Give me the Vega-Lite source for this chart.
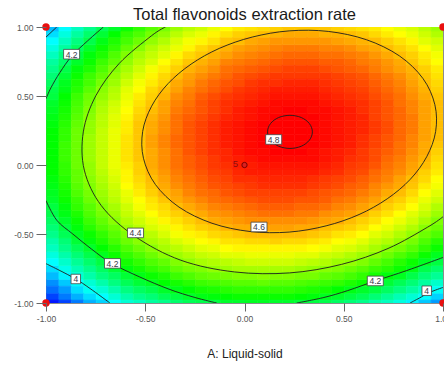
{
"$schema":"https://vega.github.io/schema/vega-lite/v6.json",
"width":397,"height":276,
"autosize":{"type":"none"},
"padding":{"left":46,"top":27,"right":1,"bottom":62},
"background":"white",
"title":{"text":"Total flavonoids extraction rate","fontSize":16.5,"font":"Liberation Sans","fontWeight":"normal","color":"#1a1a1a","anchor":"middle","frame":"group","baseline":"alphabetic","offset":-13},
"config":{
"view":{"stroke":"#8c8c8c","strokeWidth":1},
"axisX":{"tickSize":8,"tickColor":"#666","domain":false,"grid":false,"labelFont":"Liberation Sans","labelFontSize":8.5,"labelColor":"#555","labelPadding":3,"labelFlush":false,"labelOverlap":false,"titleFont":"Liberation Sans","titleFontSize":12,"titleFontWeight":"normal","titleColor":"#222","titlePadding":26},
"axisY":{"tickSize":10,"tickColor":"#666","domain":false,"grid":false,"labelFont":"Liberation Sans","labelFontSize":8.5,"labelColor":"#555","labelPadding":3,"labelFlush":false,"labelOverlap":false}
},
"datasets":{
"grid":[
{"x":-0.97,"y":-0.95,"z":3.86},{"x":-0.91,"y":-0.95,"z":3.91},{"x":-0.84,"y":-0.95,"z":3.96},{"x":-0.78,"y":-0.95,"z":4.00},{"x":-0.72,"y":-0.95,"z":4.03},{"x":-0.66,"y":-0.95,"z":4.07},{"x":-0.59,"y":-0.95,"z":4.11},{"x":-0.53,"y":-0.95,"z":4.14},{"x":-0.47,"y":-0.95,"z":4.16},{"x":-0.41,"y":-0.95,"z":4.19},{"x":-0.34,"y":-0.95,"z":4.21},{"x":-0.28,"y":-0.95,"z":4.23},{"x":-0.22,"y":-0.95,"z":4.25},{"x":-0.16,"y":-0.95,"z":4.26},{"x":-0.09,"y":-0.95,"z":4.27},{"x":-0.03,"y":-0.95,"z":4.28},{"x":0.03,"y":-0.95,"z":4.28},{"x":0.09,"y":-0.95,"z":4.28},{"x":0.16,"y":-0.95,"z":4.28},{"x":0.22,"y":-0.95,"z":4.28},{"x":0.28,"y":-0.95,"z":4.27},{"x":0.34,"y":-0.95,"z":4.26},{"x":0.41,"y":-0.95,"z":4.24},{"x":0.47,"y":-0.95,"z":4.23},{"x":0.53,"y":-0.95,"z":4.21},{"x":0.59,"y":-0.95,"z":4.19},{"x":0.66,"y":-0.95,"z":4.16},{"x":0.72,"y":-0.95,"z":4.13},{"x":0.78,"y":-0.95,"z":4.10},{"x":0.84,"y":-0.95,"z":4.07},{"x":0.91,"y":-0.95,"z":4.03},{"x":0.97,"y":-0.95,"z":3.99},
{"x":-0.97,"y":-0.85,"z":3.93},{"x":-0.91,"y":-0.85,"z":3.98},{"x":-0.84,"y":-0.85,"z":4.03},{"x":-0.78,"y":-0.85,"z":4.07},{"x":-0.72,"y":-0.85,"z":4.11},{"x":-0.66,"y":-0.85,"z":4.15},{"x":-0.59,"y":-0.85,"z":4.19},{"x":-0.53,"y":-0.85,"z":4.22},{"x":-0.47,"y":-0.85,"z":4.24},{"x":-0.41,"y":-0.85,"z":4.27},{"x":-0.34,"y":-0.85,"z":4.29},{"x":-0.28,"y":-0.85,"z":4.31},{"x":-0.22,"y":-0.85,"z":4.33},{"x":-0.16,"y":-0.85,"z":4.34},{"x":-0.09,"y":-0.85,"z":4.35},{"x":-0.03,"y":-0.85,"z":4.36},{"x":0.03,"y":-0.85,"z":4.36},{"x":0.09,"y":-0.85,"z":4.37},{"x":0.16,"y":-0.85,"z":4.36},{"x":0.22,"y":-0.85,"z":4.36},{"x":0.28,"y":-0.85,"z":4.35},{"x":0.34,"y":-0.85,"z":4.34},{"x":0.41,"y":-0.85,"z":4.33},{"x":0.47,"y":-0.85,"z":4.32},{"x":0.53,"y":-0.85,"z":4.30},{"x":0.59,"y":-0.85,"z":4.28},{"x":0.66,"y":-0.85,"z":4.25},{"x":0.72,"y":-0.85,"z":4.22},{"x":0.78,"y":-0.85,"z":4.19},{"x":0.84,"y":-0.85,"z":4.16},{"x":0.91,"y":-0.85,"z":4.12},{"x":0.97,"y":-0.85,"z":4.08},
{"x":-0.97,"y":-0.75,"z":4.00},{"x":-0.91,"y":-0.75,"z":4.05},{"x":-0.84,"y":-0.75,"z":4.10},{"x":-0.78,"y":-0.75,"z":4.14},{"x":-0.72,"y":-0.75,"z":4.18},{"x":-0.66,"y":-0.75,"z":4.22},{"x":-0.59,"y":-0.75,"z":4.26},{"x":-0.53,"y":-0.75,"z":4.29},{"x":-0.47,"y":-0.75,"z":4.32},{"x":-0.41,"y":-0.75,"z":4.34},{"x":-0.34,"y":-0.75,"z":4.37},{"x":-0.28,"y":-0.75,"z":4.39},{"x":-0.22,"y":-0.75,"z":4.40},{"x":-0.16,"y":-0.75,"z":4.42},{"x":-0.09,"y":-0.75,"z":4.43},{"x":-0.03,"y":-0.75,"z":4.44},{"x":0.03,"y":-0.75,"z":4.44},{"x":0.09,"y":-0.75,"z":4.44},{"x":0.16,"y":-0.75,"z":4.44},{"x":0.22,"y":-0.75,"z":4.44},{"x":0.28,"y":-0.75,"z":4.43},{"x":0.34,"y":-0.75,"z":4.42},{"x":0.41,"y":-0.75,"z":4.41},{"x":0.47,"y":-0.75,"z":4.40},{"x":0.53,"y":-0.75,"z":4.38},{"x":0.59,"y":-0.75,"z":4.36},{"x":0.66,"y":-0.75,"z":4.33},{"x":0.72,"y":-0.75,"z":4.31},{"x":0.78,"y":-0.75,"z":4.28},{"x":0.84,"y":-0.75,"z":4.25},{"x":0.91,"y":-0.75,"z":4.20},{"x":0.97,"y":-0.75,"z":4.17},
{"x":-0.97,"y":-0.65,"z":4.06},{"x":-0.91,"y":-0.65,"z":4.11},{"x":-0.84,"y":-0.65,"z":4.16},{"x":-0.78,"y":-0.65,"z":4.20},{"x":-0.72,"y":-0.65,"z":4.24},{"x":-0.66,"y":-0.65,"z":4.28},{"x":-0.59,"y":-0.65,"z":4.32},{"x":-0.53,"y":-0.65,"z":4.35},{"x":-0.47,"y":-0.65,"z":4.38},{"x":-0.41,"y":-0.65,"z":4.41},{"x":-0.34,"y":-0.65,"z":4.43},{"x":-0.28,"y":-0.65,"z":4.45},{"x":-0.22,"y":-0.65,"z":4.47},{"x":-0.16,"y":-0.65,"z":4.48},{"x":-0.09,"y":-0.65,"z":4.50},{"x":-0.03,"y":-0.65,"z":4.50},{"x":0.03,"y":-0.65,"z":4.51},{"x":0.09,"y":-0.65,"z":4.51},{"x":0.16,"y":-0.65,"z":4.51},{"x":0.22,"y":-0.65,"z":4.51},{"x":0.28,"y":-0.65,"z":4.50},{"x":0.34,"y":-0.65,"z":4.50},{"x":0.41,"y":-0.65,"z":4.48},{"x":0.47,"y":-0.65,"z":4.47},{"x":0.53,"y":-0.65,"z":4.45},{"x":0.59,"y":-0.65,"z":4.43},{"x":0.66,"y":-0.65,"z":4.41},{"x":0.72,"y":-0.65,"z":4.38},{"x":0.78,"y":-0.65,"z":4.35},{"x":0.84,"y":-0.65,"z":4.32},{"x":0.91,"y":-0.65,"z":4.28},{"x":0.97,"y":-0.65,"z":4.24},
{"x":-0.97,"y":-0.55,"z":4.11},{"x":-0.91,"y":-0.55,"z":4.16},{"x":-0.84,"y":-0.55,"z":4.22},{"x":-0.78,"y":-0.55,"z":4.26},{"x":-0.72,"y":-0.55,"z":4.30},{"x":-0.66,"y":-0.55,"z":4.34},{"x":-0.59,"y":-0.55,"z":4.38},{"x":-0.53,"y":-0.55,"z":4.41},{"x":-0.47,"y":-0.55,"z":4.44},{"x":-0.41,"y":-0.55,"z":4.46},{"x":-0.34,"y":-0.55,"z":4.49},{"x":-0.28,"y":-0.55,"z":4.51},{"x":-0.22,"y":-0.55,"z":4.53},{"x":-0.16,"y":-0.55,"z":4.54},{"x":-0.09,"y":-0.55,"z":4.56},{"x":-0.03,"y":-0.55,"z":4.56},{"x":0.03,"y":-0.55,"z":4.57},{"x":0.09,"y":-0.55,"z":4.57},{"x":0.16,"y":-0.55,"z":4.58},{"x":0.22,"y":-0.55,"z":4.57},{"x":0.28,"y":-0.55,"z":4.57},{"x":0.34,"y":-0.55,"z":4.56},{"x":0.41,"y":-0.55,"z":4.55},{"x":0.47,"y":-0.55,"z":4.53},{"x":0.53,"y":-0.55,"z":4.52},{"x":0.59,"y":-0.55,"z":4.50},{"x":0.66,"y":-0.55,"z":4.47},{"x":0.72,"y":-0.55,"z":4.45},{"x":0.78,"y":-0.55,"z":4.42},{"x":0.84,"y":-0.55,"z":4.39},{"x":0.91,"y":-0.55,"z":4.35},{"x":0.97,"y":-0.55,"z":4.31},
{"x":-0.97,"y":-0.45,"z":4.16},{"x":-0.91,"y":-0.45,"z":4.21},{"x":-0.84,"y":-0.45,"z":4.26},{"x":-0.78,"y":-0.45,"z":4.31},{"x":-0.72,"y":-0.45,"z":4.35},{"x":-0.66,"y":-0.45,"z":4.38},{"x":-0.59,"y":-0.45,"z":4.43},{"x":-0.53,"y":-0.45,"z":4.46},{"x":-0.47,"y":-0.45,"z":4.49},{"x":-0.41,"y":-0.45,"z":4.51},{"x":-0.34,"y":-0.45,"z":4.54},{"x":-0.28,"y":-0.45,"z":4.56},{"x":-0.22,"y":-0.45,"z":4.58},{"x":-0.16,"y":-0.45,"z":4.59},{"x":-0.09,"y":-0.45,"z":4.61},{"x":-0.03,"y":-0.45,"z":4.62},{"x":0.03,"y":-0.45,"z":4.62},{"x":0.09,"y":-0.45,"z":4.63},{"x":0.16,"y":-0.45,"z":4.63},{"x":0.22,"y":-0.45,"z":4.63},{"x":0.28,"y":-0.45,"z":4.62},{"x":0.34,"y":-0.45,"z":4.62},{"x":0.41,"y":-0.45,"z":4.60},{"x":0.47,"y":-0.45,"z":4.59},{"x":0.53,"y":-0.45,"z":4.58},{"x":0.59,"y":-0.45,"z":4.56},{"x":0.66,"y":-0.45,"z":4.53},{"x":0.72,"y":-0.45,"z":4.51},{"x":0.78,"y":-0.45,"z":4.48},{"x":0.84,"y":-0.45,"z":4.45},{"x":0.91,"y":-0.45,"z":4.41},{"x":0.97,"y":-0.45,"z":4.38},
{"x":-0.97,"y":-0.35,"z":4.20},{"x":-0.91,"y":-0.35,"z":4.25},{"x":-0.84,"y":-0.35,"z":4.30},{"x":-0.78,"y":-0.35,"z":4.35},{"x":-0.72,"y":-0.35,"z":4.39},{"x":-0.66,"y":-0.35,"z":4.43},{"x":-0.59,"y":-0.35,"z":4.47},{"x":-0.53,"y":-0.35,"z":4.50},{"x":-0.47,"y":-0.35,"z":4.53},{"x":-0.41,"y":-0.35,"z":4.56},{"x":-0.34,"y":-0.35,"z":4.58},{"x":-0.28,"y":-0.35,"z":4.60},{"x":-0.22,"y":-0.35,"z":4.62},{"x":-0.16,"y":-0.35,"z":4.64},{"x":-0.09,"y":-0.35,"z":4.65},{"x":-0.03,"y":-0.35,"z":4.66},{"x":0.03,"y":-0.35,"z":4.67},{"x":0.09,"y":-0.35,"z":4.68},{"x":0.16,"y":-0.35,"z":4.68},{"x":0.22,"y":-0.35,"z":4.68},{"x":0.28,"y":-0.35,"z":4.67},{"x":0.34,"y":-0.35,"z":4.67},{"x":0.41,"y":-0.35,"z":4.65},{"x":0.47,"y":-0.35,"z":4.64},{"x":0.53,"y":-0.35,"z":4.63},{"x":0.59,"y":-0.35,"z":4.61},{"x":0.66,"y":-0.35,"z":4.58},{"x":0.72,"y":-0.35,"z":4.56},{"x":0.78,"y":-0.35,"z":4.53},{"x":0.84,"y":-0.35,"z":4.50},{"x":0.91,"y":-0.35,"z":4.47},{"x":0.97,"y":-0.35,"z":4.43},
{"x":-0.97,"y":-0.25,"z":4.23},{"x":-0.91,"y":-0.25,"z":4.28},{"x":-0.84,"y":-0.25,"z":4.33},{"x":-0.78,"y":-0.25,"z":4.38},{"x":-0.72,"y":-0.25,"z":4.42},{"x":-0.66,"y":-0.25,"z":4.46},{"x":-0.59,"y":-0.25,"z":4.50},{"x":-0.53,"y":-0.25,"z":4.53},{"x":-0.47,"y":-0.25,"z":4.56},{"x":-0.41,"y":-0.25,"z":4.59},{"x":-0.34,"y":-0.25,"z":4.62},{"x":-0.28,"y":-0.25,"z":4.64},{"x":-0.22,"y":-0.25,"z":4.66},{"x":-0.16,"y":-0.25,"z":4.68},{"x":-0.09,"y":-0.25,"z":4.69},{"x":-0.03,"y":-0.25,"z":4.70},{"x":0.03,"y":-0.25,"z":4.71},{"x":0.09,"y":-0.25,"z":4.72},{"x":0.16,"y":-0.25,"z":4.72},{"x":0.22,"y":-0.25,"z":4.72},{"x":0.28,"y":-0.25,"z":4.71},{"x":0.34,"y":-0.25,"z":4.71},{"x":0.41,"y":-0.25,"z":4.70},{"x":0.47,"y":-0.25,"z":4.68},{"x":0.53,"y":-0.25,"z":4.67},{"x":0.59,"y":-0.25,"z":4.65},{"x":0.66,"y":-0.25,"z":4.63},{"x":0.72,"y":-0.25,"z":4.60},{"x":0.78,"y":-0.25,"z":4.58},{"x":0.84,"y":-0.25,"z":4.55},{"x":0.91,"y":-0.25,"z":4.51},{"x":0.97,"y":-0.25,"z":4.48},
{"x":-0.97,"y":-0.15,"z":4.25},{"x":-0.91,"y":-0.15,"z":4.30},{"x":-0.84,"y":-0.15,"z":4.36},{"x":-0.78,"y":-0.15,"z":4.40},{"x":-0.72,"y":-0.15,"z":4.44},{"x":-0.66,"y":-0.15,"z":4.48},{"x":-0.59,"y":-0.15,"z":4.53},{"x":-0.53,"y":-0.15,"z":4.56},{"x":-0.47,"y":-0.15,"z":4.59},{"x":-0.41,"y":-0.15,"z":4.62},{"x":-0.34,"y":-0.15,"z":4.65},{"x":-0.28,"y":-0.15,"z":4.67},{"x":-0.22,"y":-0.15,"z":4.69},{"x":-0.16,"y":-0.15,"z":4.71},{"x":-0.09,"y":-0.15,"z":4.72},{"x":-0.03,"y":-0.15,"z":4.73},{"x":0.03,"y":-0.15,"z":4.74},{"x":0.09,"y":-0.15,"z":4.75},{"x":0.16,"y":-0.15,"z":4.75},{"x":0.22,"y":-0.15,"z":4.75},{"x":0.28,"y":-0.15,"z":4.75},{"x":0.34,"y":-0.15,"z":4.74},{"x":0.41,"y":-0.15,"z":4.73},{"x":0.47,"y":-0.15,"z":4.72},{"x":0.53,"y":-0.15,"z":4.70},{"x":0.59,"y":-0.15,"z":4.69},{"x":0.66,"y":-0.15,"z":4.66},{"x":0.72,"y":-0.15,"z":4.64},{"x":0.78,"y":-0.15,"z":4.62},{"x":0.84,"y":-0.15,"z":4.59},{"x":0.91,"y":-0.15,"z":4.55},{"x":0.97,"y":-0.15,"z":4.52},
{"x":-0.97,"y":-0.05,"z":4.27},{"x":-0.91,"y":-0.05,"z":4.32},{"x":-0.84,"y":-0.05,"z":4.37},{"x":-0.78,"y":-0.05,"z":4.42},{"x":-0.72,"y":-0.05,"z":4.46},{"x":-0.66,"y":-0.05,"z":4.50},{"x":-0.59,"y":-0.05,"z":4.54},{"x":-0.53,"y":-0.05,"z":4.58},{"x":-0.47,"y":-0.05,"z":4.61},{"x":-0.41,"y":-0.05,"z":4.64},{"x":-0.34,"y":-0.05,"z":4.67},{"x":-0.28,"y":-0.05,"z":4.69},{"x":-0.22,"y":-0.05,"z":4.71},{"x":-0.16,"y":-0.05,"z":4.73},{"x":-0.09,"y":-0.05,"z":4.74},{"x":-0.03,"y":-0.05,"z":4.76},{"x":0.03,"y":-0.05,"z":4.77},{"x":0.09,"y":-0.05,"z":4.77},{"x":0.16,"y":-0.05,"z":4.77},{"x":0.22,"y":-0.05,"z":4.77},{"x":0.28,"y":-0.05,"z":4.77},{"x":0.34,"y":-0.05,"z":4.77},{"x":0.41,"y":-0.05,"z":4.76},{"x":0.47,"y":-0.05,"z":4.75},{"x":0.53,"y":-0.05,"z":4.73},{"x":0.59,"y":-0.05,"z":4.72},{"x":0.66,"y":-0.05,"z":4.69},{"x":0.72,"y":-0.05,"z":4.67},{"x":0.78,"y":-0.05,"z":4.65},{"x":0.84,"y":-0.05,"z":4.62},{"x":0.91,"y":-0.05,"z":4.58},{"x":0.97,"y":-0.05,"z":4.55},
{"x":-0.97,"y":0.05,"z":4.27},{"x":-0.91,"y":0.05,"z":4.33},{"x":-0.84,"y":0.05,"z":4.38},{"x":-0.78,"y":0.05,"z":4.43},{"x":-0.72,"y":0.05,"z":4.47},{"x":-0.66,"y":0.05,"z":4.51},{"x":-0.59,"y":0.05,"z":4.56},{"x":-0.53,"y":0.05,"z":4.59},{"x":-0.47,"y":0.05,"z":4.62},{"x":-0.41,"y":0.05,"z":4.65},{"x":-0.34,"y":0.05,"z":4.68},{"x":-0.28,"y":0.05,"z":4.70},{"x":-0.22,"y":0.05,"z":4.72},{"x":-0.16,"y":0.05,"z":4.74},{"x":-0.09,"y":0.05,"z":4.76},{"x":-0.03,"y":0.05,"z":4.77},{"x":0.03,"y":0.05,"z":4.78},{"x":0.09,"y":0.05,"z":4.79},{"x":0.16,"y":0.05,"z":4.79},{"x":0.22,"y":0.05,"z":4.79},{"x":0.28,"y":0.05,"z":4.79},{"x":0.34,"y":0.05,"z":4.79},{"x":0.41,"y":0.05,"z":4.78},{"x":0.47,"y":0.05,"z":4.77},{"x":0.53,"y":0.05,"z":4.75},{"x":0.59,"y":0.05,"z":4.74},{"x":0.66,"y":0.05,"z":4.72},{"x":0.72,"y":0.05,"z":4.69},{"x":0.78,"y":0.05,"z":4.67},{"x":0.84,"y":0.05,"z":4.64},{"x":0.91,"y":0.05,"z":4.61},{"x":0.97,"y":0.05,"z":4.57},
{"x":-0.97,"y":0.15,"z":4.27},{"x":-0.91,"y":0.15,"z":4.33},{"x":-0.84,"y":0.15,"z":4.38},{"x":-0.78,"y":0.15,"z":4.43},{"x":-0.72,"y":0.15,"z":4.47},{"x":-0.66,"y":0.15,"z":4.51},{"x":-0.59,"y":0.15,"z":4.56},{"x":-0.53,"y":0.15,"z":4.59},{"x":-0.47,"y":0.15,"z":4.63},{"x":-0.41,"y":0.15,"z":4.66},{"x":-0.34,"y":0.15,"z":4.69},{"x":-0.28,"y":0.15,"z":4.71},{"x":-0.22,"y":0.15,"z":4.73},{"x":-0.16,"y":0.15,"z":4.75},{"x":-0.09,"y":0.15,"z":4.77},{"x":-0.03,"y":0.15,"z":4.78},{"x":0.03,"y":0.15,"z":4.79},{"x":0.09,"y":0.15,"z":4.80},{"x":0.16,"y":0.15,"z":4.80},{"x":0.22,"y":0.15,"z":4.80},{"x":0.28,"y":0.15,"z":4.80},{"x":0.34,"y":0.15,"z":4.80},{"x":0.41,"y":0.15,"z":4.79},{"x":0.47,"y":0.15,"z":4.78},{"x":0.53,"y":0.15,"z":4.77},{"x":0.59,"y":0.15,"z":4.75},{"x":0.66,"y":0.15,"z":4.73},{"x":0.72,"y":0.15,"z":4.71},{"x":0.78,"y":0.15,"z":4.68},{"x":0.84,"y":0.15,"z":4.66},{"x":0.91,"y":0.15,"z":4.62},{"x":0.97,"y":0.15,"z":4.59},
{"x":-0.97,"y":0.25,"z":4.27},{"x":-0.91,"y":0.25,"z":4.32},{"x":-0.84,"y":0.25,"z":4.38},{"x":-0.78,"y":0.25,"z":4.42},{"x":-0.72,"y":0.25,"z":4.47},{"x":-0.66,"y":0.25,"z":4.51},{"x":-0.59,"y":0.25,"z":4.55},{"x":-0.53,"y":0.25,"z":4.59},{"x":-0.47,"y":0.25,"z":4.62},{"x":-0.41,"y":0.25,"z":4.65},{"x":-0.34,"y":0.25,"z":4.68},{"x":-0.28,"y":0.25,"z":4.71},{"x":-0.22,"y":0.25,"z":4.73},{"x":-0.16,"y":0.25,"z":4.75},{"x":-0.09,"y":0.25,"z":4.77},{"x":-0.03,"y":0.25,"z":4.78},{"x":0.03,"y":0.25,"z":4.79},{"x":0.09,"y":0.25,"z":4.80},{"x":0.16,"y":0.25,"z":4.80},{"x":0.22,"y":0.25,"z":4.81},{"x":0.28,"y":0.25,"z":4.80},{"x":0.34,"y":0.25,"z":4.80},{"x":0.41,"y":0.25,"z":4.79},{"x":0.47,"y":0.25,"z":4.78},{"x":0.53,"y":0.25,"z":4.77},{"x":0.59,"y":0.25,"z":4.76},{"x":0.66,"y":0.25,"z":4.74},{"x":0.72,"y":0.25,"z":4.72},{"x":0.78,"y":0.25,"z":4.69},{"x":0.84,"y":0.25,"z":4.67},{"x":0.91,"y":0.25,"z":4.63},{"x":0.97,"y":0.25,"z":4.60},
{"x":-0.97,"y":0.35,"z":4.25},{"x":-0.91,"y":0.35,"z":4.30},{"x":-0.84,"y":0.35,"z":4.36},{"x":-0.78,"y":0.35,"z":4.41},{"x":-0.72,"y":0.35,"z":4.46},{"x":-0.66,"y":0.35,"z":4.50},{"x":-0.59,"y":0.35,"z":4.54},{"x":-0.53,"y":0.35,"z":4.58},{"x":-0.47,"y":0.35,"z":4.61},{"x":-0.41,"y":0.35,"z":4.64},{"x":-0.34,"y":0.35,"z":4.68},{"x":-0.28,"y":0.35,"z":4.70},{"x":-0.22,"y":0.35,"z":4.72},{"x":-0.16,"y":0.35,"z":4.74},{"x":-0.09,"y":0.35,"z":4.76},{"x":-0.03,"y":0.35,"z":4.77},{"x":0.03,"y":0.35,"z":4.78},{"x":0.09,"y":0.35,"z":4.79},{"x":0.16,"y":0.35,"z":4.80},{"x":0.22,"y":0.35,"z":4.80},{"x":0.28,"y":0.35,"z":4.80},{"x":0.34,"y":0.35,"z":4.80},{"x":0.41,"y":0.35,"z":4.79},{"x":0.47,"y":0.35,"z":4.78},{"x":0.53,"y":0.35,"z":4.77},{"x":0.59,"y":0.35,"z":4.76},{"x":0.66,"y":0.35,"z":4.73},{"x":0.72,"y":0.35,"z":4.71},{"x":0.78,"y":0.35,"z":4.69},{"x":0.84,"y":0.35,"z":4.67},{"x":0.91,"y":0.35,"z":4.63},{"x":0.97,"y":0.35,"z":4.60},
{"x":-0.97,"y":0.45,"z":4.23},{"x":-0.91,"y":0.45,"z":4.28},{"x":-0.84,"y":0.45,"z":4.34},{"x":-0.78,"y":0.45,"z":4.39},{"x":-0.72,"y":0.45,"z":4.44},{"x":-0.66,"y":0.45,"z":4.48},{"x":-0.59,"y":0.45,"z":4.52},{"x":-0.53,"y":0.45,"z":4.56},{"x":-0.47,"y":0.45,"z":4.59},{"x":-0.41,"y":0.45,"z":4.63},{"x":-0.34,"y":0.45,"z":4.66},{"x":-0.28,"y":0.45,"z":4.68},{"x":-0.22,"y":0.45,"z":4.71},{"x":-0.16,"y":0.45,"z":4.73},{"x":-0.09,"y":0.45,"z":4.75},{"x":-0.03,"y":0.45,"z":4.76},{"x":0.03,"y":0.45,"z":4.77},{"x":0.09,"y":0.45,"z":4.78},{"x":0.16,"y":0.45,"z":4.79},{"x":0.22,"y":0.45,"z":4.79},{"x":0.28,"y":0.45,"z":4.79},{"x":0.34,"y":0.45,"z":4.79},{"x":0.41,"y":0.45,"z":4.78},{"x":0.47,"y":0.45,"z":4.77},{"x":0.53,"y":0.45,"z":4.76},{"x":0.59,"y":0.45,"z":4.75},{"x":0.66,"y":0.45,"z":4.73},{"x":0.72,"y":0.45,"z":4.71},{"x":0.78,"y":0.45,"z":4.68},{"x":0.84,"y":0.45,"z":4.66},{"x":0.91,"y":0.45,"z":4.63},{"x":0.97,"y":0.45,"z":4.60},
{"x":-0.97,"y":0.55,"z":4.20},{"x":-0.91,"y":0.55,"z":4.25},{"x":-0.84,"y":0.55,"z":4.31},{"x":-0.78,"y":0.55,"z":4.36},{"x":-0.72,"y":0.55,"z":4.41},{"x":-0.66,"y":0.55,"z":4.45},{"x":-0.59,"y":0.55,"z":4.50},{"x":-0.53,"y":0.55,"z":4.53},{"x":-0.47,"y":0.55,"z":4.57},{"x":-0.41,"y":0.55,"z":4.60},{"x":-0.34,"y":0.55,"z":4.63},{"x":-0.28,"y":0.55,"z":4.66},{"x":-0.22,"y":0.55,"z":4.68},{"x":-0.16,"y":0.55,"z":4.70},{"x":-0.09,"y":0.55,"z":4.72},{"x":-0.03,"y":0.55,"z":4.74},{"x":0.03,"y":0.55,"z":4.75},{"x":0.09,"y":0.55,"z":4.76},{"x":0.16,"y":0.55,"z":4.77},{"x":0.22,"y":0.55,"z":4.77},{"x":0.28,"y":0.55,"z":4.77},{"x":0.34,"y":0.55,"z":4.77},{"x":0.41,"y":0.55,"z":4.76},{"x":0.47,"y":0.55,"z":4.75},{"x":0.53,"y":0.55,"z":4.74},{"x":0.59,"y":0.55,"z":4.73},{"x":0.66,"y":0.55,"z":4.71},{"x":0.72,"y":0.55,"z":4.69},{"x":0.78,"y":0.55,"z":4.67},{"x":0.84,"y":0.55,"z":4.64},{"x":0.91,"y":0.55,"z":4.61},{"x":0.97,"y":0.55,"z":4.58},
{"x":-0.97,"y":0.65,"z":4.16},{"x":-0.91,"y":0.65,"z":4.22},{"x":-0.84,"y":0.65,"z":4.28},{"x":-0.78,"y":0.65,"z":4.33},{"x":-0.72,"y":0.65,"z":4.37},{"x":-0.66,"y":0.65,"z":4.42},{"x":-0.59,"y":0.65,"z":4.46},{"x":-0.53,"y":0.65,"z":4.50},{"x":-0.47,"y":0.65,"z":4.54},{"x":-0.41,"y":0.65,"z":4.57},{"x":-0.34,"y":0.65,"z":4.60},{"x":-0.28,"y":0.65,"z":4.63},{"x":-0.22,"y":0.65,"z":4.65},{"x":-0.16,"y":0.65,"z":4.67},{"x":-0.09,"y":0.65,"z":4.69},{"x":-0.03,"y":0.65,"z":4.71},{"x":0.03,"y":0.65,"z":4.72},{"x":0.09,"y":0.65,"z":4.73},{"x":0.16,"y":0.65,"z":4.74},{"x":0.22,"y":0.65,"z":4.74},{"x":0.28,"y":0.65,"z":4.74},{"x":0.34,"y":0.65,"z":4.74},{"x":0.41,"y":0.65,"z":4.74},{"x":0.47,"y":0.65,"z":4.73},{"x":0.53,"y":0.65,"z":4.72},{"x":0.59,"y":0.65,"z":4.71},{"x":0.66,"y":0.65,"z":4.69},{"x":0.72,"y":0.65,"z":4.67},{"x":0.78,"y":0.65,"z":4.65},{"x":0.84,"y":0.65,"z":4.62},{"x":0.91,"y":0.65,"z":4.59},{"x":0.97,"y":0.65,"z":4.56},
{"x":-0.97,"y":0.75,"z":4.12},{"x":-0.91,"y":0.75,"z":4.17},{"x":-0.84,"y":0.75,"z":4.23},{"x":-0.78,"y":0.75,"z":4.28},{"x":-0.72,"y":0.75,"z":4.33},{"x":-0.66,"y":0.75,"z":4.37},{"x":-0.59,"y":0.75,"z":4.42},{"x":-0.53,"y":0.75,"z":4.46},{"x":-0.47,"y":0.75,"z":4.49},{"x":-0.41,"y":0.75,"z":4.53},{"x":-0.34,"y":0.75,"z":4.56},{"x":-0.28,"y":0.75,"z":4.59},{"x":-0.22,"y":0.75,"z":4.61},{"x":-0.16,"y":0.75,"z":4.63},{"x":-0.09,"y":0.75,"z":4.66},{"x":-0.03,"y":0.75,"z":4.67},{"x":0.03,"y":0.75,"z":4.68},{"x":0.09,"y":0.75,"z":4.69},{"x":0.16,"y":0.75,"z":4.70},{"x":0.22,"y":0.75,"z":4.71},{"x":0.28,"y":0.75,"z":4.71},{"x":0.34,"y":0.75,"z":4.71},{"x":0.41,"y":0.75,"z":4.70},{"x":0.47,"y":0.75,"z":4.70},{"x":0.53,"y":0.75,"z":4.69},{"x":0.59,"y":0.75,"z":4.67},{"x":0.66,"y":0.75,"z":4.66},{"x":0.72,"y":0.75,"z":4.64},{"x":0.78,"y":0.75,"z":4.62},{"x":0.84,"y":0.75,"z":4.59},{"x":0.91,"y":0.75,"z":4.56},{"x":0.97,"y":0.75,"z":4.53},
{"x":-0.97,"y":0.85,"z":4.06},{"x":-0.91,"y":0.85,"z":4.12},{"x":-0.84,"y":0.85,"z":4.18},{"x":-0.78,"y":0.85,"z":4.23},{"x":-0.72,"y":0.85,"z":4.28},{"x":-0.66,"y":0.85,"z":4.32},{"x":-0.59,"y":0.85,"z":4.37},{"x":-0.53,"y":0.85,"z":4.41},{"x":-0.47,"y":0.85,"z":4.45},{"x":-0.41,"y":0.85,"z":4.48},{"x":-0.34,"y":0.85,"z":4.51},{"x":-0.28,"y":0.85,"z":4.54},{"x":-0.22,"y":0.85,"z":4.57},{"x":-0.16,"y":0.85,"z":4.59},{"x":-0.09,"y":0.85,"z":4.61},{"x":-0.03,"y":0.85,"z":4.63},{"x":0.03,"y":0.85,"z":4.64},{"x":0.09,"y":0.85,"z":4.65},{"x":0.16,"y":0.85,"z":4.66},{"x":0.22,"y":0.85,"z":4.67},{"x":0.28,"y":0.85,"z":4.67},{"x":0.34,"y":0.85,"z":4.67},{"x":0.41,"y":0.85,"z":4.66},{"x":0.47,"y":0.85,"z":4.66},{"x":0.53,"y":0.85,"z":4.65},{"x":0.59,"y":0.85,"z":4.63},{"x":0.66,"y":0.85,"z":4.62},{"x":0.72,"y":0.85,"z":4.60},{"x":0.78,"y":0.85,"z":4.58},{"x":0.84,"y":0.85,"z":4.56},{"x":0.91,"y":0.85,"z":4.53},{"x":0.97,"y":0.85,"z":4.50},
{"x":-0.97,"y":0.95,"z":4.00},{"x":-0.91,"y":0.95,"z":4.06},{"x":-0.84,"y":0.95,"z":4.12},{"x":-0.78,"y":0.95,"z":4.17},{"x":-0.72,"y":0.95,"z":4.22},{"x":-0.66,"y":0.95,"z":4.27},{"x":-0.59,"y":0.95,"z":4.32},{"x":-0.53,"y":0.95,"z":4.35},{"x":-0.47,"y":0.95,"z":4.39},{"x":-0.41,"y":0.95,"z":4.42},{"x":-0.34,"y":0.95,"z":4.46},{"x":-0.28,"y":0.95,"z":4.49},{"x":-0.22,"y":0.95,"z":4.51},{"x":-0.16,"y":0.95,"z":4.54},{"x":-0.09,"y":0.95,"z":4.56},{"x":-0.03,"y":0.95,"z":4.58},{"x":0.03,"y":0.95,"z":4.59},{"x":0.09,"y":0.95,"z":4.60},{"x":0.16,"y":0.95,"z":4.61},{"x":0.22,"y":0.95,"z":4.62},{"x":0.28,"y":0.95,"z":4.62},{"x":0.34,"y":0.95,"z":4.62},{"x":0.41,"y":0.95,"z":4.61},{"x":0.47,"y":0.95,"z":4.61},{"x":0.53,"y":0.95,"z":4.60},{"x":0.59,"y":0.95,"z":4.59},{"x":0.66,"y":0.95,"z":4.57},{"x":0.72,"y":0.95,"z":4.55},{"x":0.78,"y":0.95,"z":4.53},{"x":0.84,"y":0.95,"z":4.51},{"x":0.91,"y":0.95,"z":4.48},{"x":0.97,"y":0.95,"z":4.45},
{"x":-0.97,"y":-1,"z":3.82},{"x":-0.91,"y":-1,"z":3.86},{"x":-0.84,"y":-1,"z":3.91},{"x":-0.78,"y":-1,"z":3.96},{"x":-0.72,"y":-1,"z":3.99},{"x":-0.66,"y":-1,"z":4.03},{"x":-0.59,"y":-1,"z":4.07},{"x":-0.53,"y":-1,"z":4.09},{"x":-0.47,"y":-1,"z":4.12},{"x":-0.41,"y":-1,"z":4.14},{"x":-0.34,"y":-1,"z":4.17},{"x":-0.28,"y":-1,"z":4.19},{"x":-0.22,"y":-1,"z":4.20},{"x":-0.16,"y":-1,"z":4.21},{"x":-0.09,"y":-1,"z":4.23},{"x":-0.03,"y":-1,"z":4.23},{"x":0.03,"y":-1,"z":4.24},{"x":0.09,"y":-1,"z":4.24},{"x":0.16,"y":-1,"z":4.23},{"x":0.22,"y":-1,"z":4.23},{"x":0.28,"y":-1,"z":4.22},{"x":0.34,"y":-1,"z":4.21},{"x":0.41,"y":-1,"z":4.20},{"x":0.47,"y":-1,"z":4.18},{"x":0.53,"y":-1,"z":4.16},{"x":0.59,"y":-1,"z":4.14},{"x":0.66,"y":-1,"z":4.11},{"x":0.72,"y":-1,"z":4.09},{"x":0.78,"y":-1,"z":4.06},{"x":0.84,"y":-1,"z":4.02},{"x":0.91,"y":-1,"z":3.98},{"x":0.97,"y":-1,"z":3.94},
{"x":-0.97,"y":-0.9,"z":3.90},{"x":-0.91,"y":-0.9,"z":3.94},{"x":-0.84,"y":-0.9,"z":4.00},{"x":-0.78,"y":-0.9,"z":4.04},{"x":-0.72,"y":-0.9,"z":4.07},{"x":-0.66,"y":-0.9,"z":4.11},{"x":-0.59,"y":-0.9,"z":4.15},{"x":-0.53,"y":-0.9,"z":4.18},{"x":-0.47,"y":-0.9,"z":4.20},{"x":-0.41,"y":-0.9,"z":4.23},{"x":-0.34,"y":-0.9,"z":4.25},{"x":-0.28,"y":-0.9,"z":4.27},{"x":-0.22,"y":-0.9,"z":4.29},{"x":-0.16,"y":-0.9,"z":4.30},{"x":-0.09,"y":-0.9,"z":4.31},{"x":-0.03,"y":-0.9,"z":4.32},{"x":0.03,"y":-0.9,"z":4.32},{"x":0.09,"y":-0.9,"z":4.32},{"x":0.16,"y":-0.9,"z":4.32},{"x":0.22,"y":-0.9,"z":4.32},{"x":0.28,"y":-0.9,"z":4.31},{"x":0.34,"y":-0.9,"z":4.30},{"x":0.41,"y":-0.9,"z":4.29},{"x":0.47,"y":-0.9,"z":4.27},{"x":0.53,"y":-0.9,"z":4.25},{"x":0.59,"y":-0.9,"z":4.23},{"x":0.66,"y":-0.9,"z":4.21},{"x":0.72,"y":-0.9,"z":4.18},{"x":0.78,"y":-0.9,"z":4.15},{"x":0.84,"y":-0.9,"z":4.12},{"x":0.91,"y":-0.9,"z":4.08},{"x":0.97,"y":-0.9,"z":4.04},
{"x":-0.97,"y":-0.8,"z":3.97},{"x":-0.91,"y":-0.8,"z":4.02},{"x":-0.84,"y":-0.8,"z":4.07},{"x":-0.78,"y":-0.8,"z":4.11},{"x":-0.72,"y":-0.8,"z":4.15},{"x":-0.66,"y":-0.8,"z":4.18},{"x":-0.59,"y":-0.8,"z":4.22},{"x":-0.53,"y":-0.8,"z":4.25},{"x":-0.47,"y":-0.8,"z":4.28},{"x":-0.41,"y":-0.8,"z":4.30},{"x":-0.34,"y":-0.8,"z":4.33},{"x":-0.28,"y":-0.8,"z":4.35},{"x":-0.22,"y":-0.8,"z":4.37},{"x":-0.16,"y":-0.8,"z":4.38},{"x":-0.09,"y":-0.8,"z":4.39},{"x":-0.03,"y":-0.8,"z":4.40},{"x":0.03,"y":-0.8,"z":4.40},{"x":0.09,"y":-0.8,"z":4.41},{"x":0.16,"y":-0.8,"z":4.40},{"x":0.22,"y":-0.8,"z":4.40},{"x":0.28,"y":-0.8,"z":4.39},{"x":0.34,"y":-0.8,"z":4.39},{"x":0.41,"y":-0.8,"z":4.37},{"x":0.47,"y":-0.8,"z":4.36},{"x":0.53,"y":-0.8,"z":4.34},{"x":0.59,"y":-0.8,"z":4.32},{"x":0.66,"y":-0.8,"z":4.29},{"x":0.72,"y":-0.8,"z":4.26},{"x":0.78,"y":-0.8,"z":4.24},{"x":0.84,"y":-0.8,"z":4.20},{"x":0.91,"y":-0.8,"z":4.16},{"x":0.97,"y":-0.8,"z":4.13},
{"x":-0.97,"y":-0.7,"z":4.03},{"x":-0.91,"y":-0.7,"z":4.08},{"x":-0.84,"y":-0.7,"z":4.13},{"x":-0.78,"y":-0.7,"z":4.17},{"x":-0.72,"y":-0.7,"z":4.21},{"x":-0.66,"y":-0.7,"z":4.25},{"x":-0.59,"y":-0.7,"z":4.29},{"x":-0.53,"y":-0.7,"z":4.32},{"x":-0.47,"y":-0.7,"z":4.35},{"x":-0.41,"y":-0.7,"z":4.37},{"x":-0.34,"y":-0.7,"z":4.40},{"x":-0.28,"y":-0.7,"z":4.42},{"x":-0.22,"y":-0.7,"z":4.44},{"x":-0.16,"y":-0.7,"z":4.45},{"x":-0.09,"y":-0.7,"z":4.46},{"x":-0.03,"y":-0.7,"z":4.47},{"x":0.03,"y":-0.7,"z":4.48},{"x":0.09,"y":-0.7,"z":4.48},{"x":0.16,"y":-0.7,"z":4.48},{"x":0.22,"y":-0.7,"z":4.48},{"x":0.28,"y":-0.7,"z":4.47},{"x":0.34,"y":-0.7,"z":4.46},{"x":0.41,"y":-0.7,"z":4.45},{"x":0.47,"y":-0.7,"z":4.43},{"x":0.53,"y":-0.7,"z":4.42},{"x":0.59,"y":-0.7,"z":4.40},{"x":0.66,"y":-0.7,"z":4.37},{"x":0.72,"y":-0.7,"z":4.34},{"x":0.78,"y":-0.7,"z":4.31},{"x":0.84,"y":-0.7,"z":4.28},{"x":0.91,"y":-0.7,"z":4.24},{"x":0.97,"y":-0.7,"z":4.21},
{"x":-0.97,"y":-0.6,"z":4.09},{"x":-0.91,"y":-0.6,"z":4.14},{"x":-0.84,"y":-0.6,"z":4.19},{"x":-0.78,"y":-0.6,"z":4.23},{"x":-0.72,"y":-0.6,"z":4.27},{"x":-0.66,"y":-0.6,"z":4.31},{"x":-0.59,"y":-0.6,"z":4.35},{"x":-0.53,"y":-0.6,"z":4.38},{"x":-0.47,"y":-0.6,"z":4.41},{"x":-0.41,"y":-0.6,"z":4.44},{"x":-0.34,"y":-0.6,"z":4.46},{"x":-0.28,"y":-0.6,"z":4.48},{"x":-0.22,"y":-0.6,"z":4.50},{"x":-0.16,"y":-0.6,"z":4.51},{"x":-0.09,"y":-0.6,"z":4.53},{"x":-0.03,"y":-0.6,"z":4.54},{"x":0.03,"y":-0.6,"z":4.54},{"x":0.09,"y":-0.6,"z":4.54},{"x":0.16,"y":-0.6,"z":4.54},{"x":0.22,"y":-0.6,"z":4.54},{"x":0.28,"y":-0.6,"z":4.54},{"x":0.34,"y":-0.6,"z":4.53},{"x":0.41,"y":-0.6,"z":4.52},{"x":0.47,"y":-0.6,"z":4.50},{"x":0.53,"y":-0.6,"z":4.49},{"x":0.59,"y":-0.6,"z":4.47},{"x":0.66,"y":-0.6,"z":4.44},{"x":0.72,"y":-0.6,"z":4.41},{"x":0.78,"y":-0.6,"z":4.39},{"x":0.84,"y":-0.6,"z":4.36},{"x":0.91,"y":-0.6,"z":4.32},{"x":0.97,"y":-0.6,"z":4.28},
{"x":-0.97,"y":-0.5,"z":4.14},{"x":-0.91,"y":-0.5,"z":4.19},{"x":-0.84,"y":-0.5,"z":4.24},{"x":-0.78,"y":-0.5,"z":4.28},{"x":-0.72,"y":-0.5,"z":4.32},{"x":-0.66,"y":-0.5,"z":4.36},{"x":-0.59,"y":-0.5,"z":4.40},{"x":-0.53,"y":-0.5,"z":4.43},{"x":-0.47,"y":-0.5,"z":4.46},{"x":-0.41,"y":-0.5,"z":4.49},{"x":-0.34,"y":-0.5,"z":4.52},{"x":-0.28,"y":-0.5,"z":4.54},{"x":-0.22,"y":-0.5,"z":4.55},{"x":-0.16,"y":-0.5,"z":4.57},{"x":-0.09,"y":-0.5,"z":4.58},{"x":-0.03,"y":-0.5,"z":4.59},{"x":0.03,"y":-0.5,"z":4.60},{"x":0.09,"y":-0.5,"z":4.60},{"x":0.16,"y":-0.5,"z":4.60},{"x":0.22,"y":-0.5,"z":4.60},{"x":0.28,"y":-0.5,"z":4.60},{"x":0.34,"y":-0.5,"z":4.59},{"x":0.41,"y":-0.5,"z":4.58},{"x":0.47,"y":-0.5,"z":4.56},{"x":0.53,"y":-0.5,"z":4.55},{"x":0.59,"y":-0.5,"z":4.53},{"x":0.66,"y":-0.5,"z":4.50},{"x":0.72,"y":-0.5,"z":4.48},{"x":0.78,"y":-0.5,"z":4.45},{"x":0.84,"y":-0.5,"z":4.42},{"x":0.91,"y":-0.5,"z":4.38},{"x":0.97,"y":-0.5,"z":4.35},
{"x":-0.97,"y":-0.4,"z":4.18},{"x":-0.91,"y":-0.4,"z":4.23},{"x":-0.84,"y":-0.4,"z":4.28},{"x":-0.78,"y":-0.4,"z":4.33},{"x":-0.72,"y":-0.4,"z":4.37},{"x":-0.66,"y":-0.4,"z":4.41},{"x":-0.59,"y":-0.4,"z":4.45},{"x":-0.53,"y":-0.4,"z":4.48},{"x":-0.47,"y":-0.4,"z":4.51},{"x":-0.41,"y":-0.4,"z":4.54},{"x":-0.34,"y":-0.4,"z":4.56},{"x":-0.28,"y":-0.4,"z":4.58},{"x":-0.22,"y":-0.4,"z":4.60},{"x":-0.16,"y":-0.4,"z":4.62},{"x":-0.09,"y":-0.4,"z":4.63},{"x":-0.03,"y":-0.4,"z":4.64},{"x":0.03,"y":-0.4,"z":4.65},{"x":0.09,"y":-0.4,"z":4.65},{"x":0.16,"y":-0.4,"z":4.65},{"x":0.22,"y":-0.4,"z":4.65},{"x":0.28,"y":-0.4,"z":4.65},{"x":0.34,"y":-0.4,"z":4.64},{"x":0.41,"y":-0.4,"z":4.63},{"x":0.47,"y":-0.4,"z":4.62},{"x":0.53,"y":-0.4,"z":4.60},{"x":0.59,"y":-0.4,"z":4.58},{"x":0.66,"y":-0.4,"z":4.56},{"x":0.72,"y":-0.4,"z":4.53},{"x":0.78,"y":-0.4,"z":4.51},{"x":0.84,"y":-0.4,"z":4.48},{"x":0.91,"y":-0.4,"z":4.44},{"x":0.97,"y":-0.4,"z":4.40},
{"x":-0.97,"y":-0.3,"z":4.21},{"x":-0.91,"y":-0.3,"z":4.26},{"x":-0.84,"y":-0.3,"z":4.32},{"x":-0.78,"y":-0.3,"z":4.36},{"x":-0.72,"y":-0.3,"z":4.40},{"x":-0.66,"y":-0.3,"z":4.44},{"x":-0.59,"y":-0.3,"z":4.48},{"x":-0.53,"y":-0.3,"z":4.52},{"x":-0.47,"y":-0.3,"z":4.55},{"x":-0.41,"y":-0.3,"z":4.57},{"x":-0.34,"y":-0.3,"z":4.60},{"x":-0.28,"y":-0.3,"z":4.62},{"x":-0.22,"y":-0.3,"z":4.64},{"x":-0.16,"y":-0.3,"z":4.66},{"x":-0.09,"y":-0.3,"z":4.67},{"x":-0.03,"y":-0.3,"z":4.68},{"x":0.03,"y":-0.3,"z":4.69},{"x":0.09,"y":-0.3,"z":4.70},{"x":0.16,"y":-0.3,"z":4.70},{"x":0.22,"y":-0.3,"z":4.70},{"x":0.28,"y":-0.3,"z":4.69},{"x":0.34,"y":-0.3,"z":4.69},{"x":0.41,"y":-0.3,"z":4.68},{"x":0.47,"y":-0.3,"z":4.66},{"x":0.53,"y":-0.3,"z":4.65},{"x":0.59,"y":-0.3,"z":4.63},{"x":0.66,"y":-0.3,"z":4.61},{"x":0.72,"y":-0.3,"z":4.58},{"x":0.78,"y":-0.3,"z":4.56},{"x":0.84,"y":-0.3,"z":4.53},{"x":0.91,"y":-0.3,"z":4.49},{"x":0.97,"y":-0.3,"z":4.45},
{"x":-0.97,"y":-0.2,"z":4.24},{"x":-0.91,"y":-0.2,"z":4.29},{"x":-0.84,"y":-0.2,"z":4.35},{"x":-0.78,"y":-0.2,"z":4.39},{"x":-0.72,"y":-0.2,"z":4.43},{"x":-0.66,"y":-0.2,"z":4.47},{"x":-0.59,"y":-0.2,"z":4.51},{"x":-0.53,"y":-0.2,"z":4.55},{"x":-0.47,"y":-0.2,"z":4.58},{"x":-0.41,"y":-0.2,"z":4.61},{"x":-0.34,"y":-0.2,"z":4.63},{"x":-0.28,"y":-0.2,"z":4.66},{"x":-0.22,"y":-0.2,"z":4.68},{"x":-0.16,"y":-0.2,"z":4.69},{"x":-0.09,"y":-0.2,"z":4.71},{"x":-0.03,"y":-0.2,"z":4.72},{"x":0.03,"y":-0.2,"z":4.73},{"x":0.09,"y":-0.2,"z":4.73},{"x":0.16,"y":-0.2,"z":4.73},{"x":0.22,"y":-0.2,"z":4.73},{"x":0.28,"y":-0.2,"z":4.73},{"x":0.34,"y":-0.2,"z":4.72},{"x":0.41,"y":-0.2,"z":4.71},{"x":0.47,"y":-0.2,"z":4.70},{"x":0.53,"y":-0.2,"z":4.69},{"x":0.59,"y":-0.2,"z":4.67},{"x":0.66,"y":-0.2,"z":4.65},{"x":0.72,"y":-0.2,"z":4.62},{"x":0.78,"y":-0.2,"z":4.60},{"x":0.84,"y":-0.2,"z":4.57},{"x":0.91,"y":-0.2,"z":4.53},{"x":0.97,"y":-0.2,"z":4.50},
{"x":-0.97,"y":-0.1,"z":4.26},{"x":-0.91,"y":-0.1,"z":4.31},{"x":-0.84,"y":-0.1,"z":4.37},{"x":-0.78,"y":-0.1,"z":4.41},{"x":-0.72,"y":-0.1,"z":4.45},{"x":-0.66,"y":-0.1,"z":4.49},{"x":-0.59,"y":-0.1,"z":4.54},{"x":-0.53,"y":-0.1,"z":4.57},{"x":-0.47,"y":-0.1,"z":4.60},{"x":-0.41,"y":-0.1,"z":4.63},{"x":-0.34,"y":-0.1,"z":4.66},{"x":-0.28,"y":-0.1,"z":4.68},{"x":-0.22,"y":-0.1,"z":4.70},{"x":-0.16,"y":-0.1,"z":4.72},{"x":-0.09,"y":-0.1,"z":4.73},{"x":-0.03,"y":-0.1,"z":4.75},{"x":0.03,"y":-0.1,"z":4.75},{"x":0.09,"y":-0.1,"z":4.76},{"x":0.16,"y":-0.1,"z":4.76},{"x":0.22,"y":-0.1,"z":4.76},{"x":0.28,"y":-0.1,"z":4.76},{"x":0.34,"y":-0.1,"z":4.75},{"x":0.41,"y":-0.1,"z":4.74},{"x":0.47,"y":-0.1,"z":4.73},{"x":0.53,"y":-0.1,"z":4.72},{"x":0.59,"y":-0.1,"z":4.70},{"x":0.66,"y":-0.1,"z":4.68},{"x":0.72,"y":-0.1,"z":4.66},{"x":0.78,"y":-0.1,"z":4.63},{"x":0.84,"y":-0.1,"z":4.60},{"x":0.91,"y":-0.1,"z":4.57},{"x":0.97,"y":-0.1,"z":4.53},
{"x":-0.97,"y":0,"z":4.27},{"x":-0.91,"y":0,"z":4.32},{"x":-0.84,"y":0,"z":4.38},{"x":-0.78,"y":0,"z":4.42},{"x":-0.72,"y":0,"z":4.47},{"x":-0.66,"y":0,"z":4.51},{"x":-0.59,"y":0,"z":4.55},{"x":-0.53,"y":0,"z":4.58},{"x":-0.47,"y":0,"z":4.62},{"x":-0.41,"y":0,"z":4.65},{"x":-0.34,"y":0,"z":4.68},{"x":-0.28,"y":0,"z":4.70},{"x":-0.22,"y":0,"z":4.72},{"x":-0.16,"y":0,"z":4.74},{"x":-0.09,"y":0,"z":4.75},{"x":-0.03,"y":0,"z":4.77},{"x":0.03,"y":0,"z":4.77},{"x":0.09,"y":0,"z":4.78},{"x":0.16,"y":0,"z":4.78},{"x":0.22,"y":0,"z":4.78},{"x":0.28,"y":0,"z":4.78},{"x":0.34,"y":0,"z":4.78},{"x":0.41,"y":0,"z":4.77},{"x":0.47,"y":0,"z":4.76},{"x":0.53,"y":0,"z":4.74},{"x":0.59,"y":0,"z":4.73},{"x":0.66,"y":0,"z":4.71},{"x":0.72,"y":0,"z":4.68},{"x":0.78,"y":0,"z":4.66},{"x":0.84,"y":0,"z":4.63},{"x":0.91,"y":0,"z":4.60},{"x":0.97,"y":0,"z":4.56},
{"x":-0.97,"y":0.1,"z":4.27},{"x":-0.91,"y":0.1,"z":4.33},{"x":-0.84,"y":0.1,"z":4.38},{"x":-0.78,"y":0.1,"z":4.43},{"x":-0.72,"y":0.1,"z":4.47},{"x":-0.66,"y":0.1,"z":4.51},{"x":-0.59,"y":0.1,"z":4.56},{"x":-0.53,"y":0.1,"z":4.59},{"x":-0.47,"y":0.1,"z":4.62},{"x":-0.41,"y":0.1,"z":4.65},{"x":-0.34,"y":0.1,"z":4.68},{"x":-0.28,"y":0.1,"z":4.71},{"x":-0.22,"y":0.1,"z":4.73},{"x":-0.16,"y":0.1,"z":4.75},{"x":-0.09,"y":0.1,"z":4.76},{"x":-0.03,"y":0.1,"z":4.78},{"x":0.03,"y":0.1,"z":4.79},{"x":0.09,"y":0.1,"z":4.79},{"x":0.16,"y":0.1,"z":4.80},{"x":0.22,"y":0.1,"z":4.80},{"x":0.28,"y":0.1,"z":4.80},{"x":0.34,"y":0.1,"z":4.79},{"x":0.41,"y":0.1,"z":4.78},{"x":0.47,"y":0.1,"z":4.77},{"x":0.53,"y":0.1,"z":4.76},{"x":0.59,"y":0.1,"z":4.74},{"x":0.66,"y":0.1,"z":4.72},{"x":0.72,"y":0.1,"z":4.70},{"x":0.78,"y":0.1,"z":4.68},{"x":0.84,"y":0.1,"z":4.65},{"x":0.91,"y":0.1,"z":4.62},{"x":0.97,"y":0.1,"z":4.58},
{"x":-0.97,"y":0.2,"z":4.27},{"x":-0.91,"y":0.2,"z":4.32},{"x":-0.84,"y":0.2,"z":4.38},{"x":-0.78,"y":0.2,"z":4.43},{"x":-0.72,"y":0.2,"z":4.47},{"x":-0.66,"y":0.2,"z":4.51},{"x":-0.59,"y":0.2,"z":4.56},{"x":-0.53,"y":0.2,"z":4.59},{"x":-0.47,"y":0.2,"z":4.63},{"x":-0.41,"y":0.2,"z":4.66},{"x":-0.34,"y":0.2,"z":4.69},{"x":-0.28,"y":0.2,"z":4.71},{"x":-0.22,"y":0.2,"z":4.73},{"x":-0.16,"y":0.2,"z":4.75},{"x":-0.09,"y":0.2,"z":4.77},{"x":-0.03,"y":0.2,"z":4.78},{"x":0.03,"y":0.2,"z":4.79},{"x":0.09,"y":0.2,"z":4.80},{"x":0.16,"y":0.2,"z":4.80},{"x":0.22,"y":0.2,"z":4.81},{"x":0.28,"y":0.2,"z":4.80},{"x":0.34,"y":0.2,"z":4.80},{"x":0.41,"y":0.2,"z":4.79},{"x":0.47,"y":0.2,"z":4.78},{"x":0.53,"y":0.2,"z":4.77},{"x":0.59,"y":0.2,"z":4.75},{"x":0.66,"y":0.2,"z":4.73},{"x":0.72,"y":0.2,"z":4.71},{"x":0.78,"y":0.2,"z":4.69},{"x":0.84,"y":0.2,"z":4.66},{"x":0.91,"y":0.2,"z":4.63},{"x":0.97,"y":0.2,"z":4.60},
{"x":-0.97,"y":0.3,"z":4.26},{"x":-0.91,"y":0.3,"z":4.31},{"x":-0.84,"y":0.3,"z":4.37},{"x":-0.78,"y":0.3,"z":4.42},{"x":-0.72,"y":0.3,"z":4.46},{"x":-0.66,"y":0.3,"z":4.50},{"x":-0.59,"y":0.3,"z":4.55},{"x":-0.53,"y":0.3,"z":4.59},{"x":-0.47,"y":0.3,"z":4.62},{"x":-0.41,"y":0.3,"z":4.65},{"x":-0.34,"y":0.3,"z":4.68},{"x":-0.28,"y":0.3,"z":4.71},{"x":-0.22,"y":0.3,"z":4.73},{"x":-0.16,"y":0.3,"z":4.75},{"x":-0.09,"y":0.3,"z":4.77},{"x":-0.03,"y":0.3,"z":4.78},{"x":0.03,"y":0.3,"z":4.79},{"x":0.09,"y":0.3,"z":4.80},{"x":0.16,"y":0.3,"z":4.80},{"x":0.22,"y":0.3,"z":4.80},{"x":0.28,"y":0.3,"z":4.80},{"x":0.34,"y":0.3,"z":4.80},{"x":0.41,"y":0.3,"z":4.79},{"x":0.47,"y":0.3,"z":4.78},{"x":0.53,"y":0.3,"z":4.77},{"x":0.59,"y":0.3,"z":4.76},{"x":0.66,"y":0.3,"z":4.74},{"x":0.72,"y":0.3,"z":4.72},{"x":0.78,"y":0.3,"z":4.69},{"x":0.84,"y":0.3,"z":4.67},{"x":0.91,"y":0.3,"z":4.63},{"x":0.97,"y":0.3,"z":4.60},
{"x":-0.97,"y":0.4,"z":4.24},{"x":-0.91,"y":0.4,"z":4.29},{"x":-0.84,"y":0.4,"z":4.35},{"x":-0.78,"y":0.4,"z":4.40},{"x":-0.72,"y":0.4,"z":4.45},{"x":-0.66,"y":0.4,"z":4.49},{"x":-0.59,"y":0.4,"z":4.53},{"x":-0.53,"y":0.4,"z":4.57},{"x":-0.47,"y":0.4,"z":4.60},{"x":-0.41,"y":0.4,"z":4.63},{"x":-0.34,"y":0.4,"z":4.67},{"x":-0.28,"y":0.4,"z":4.69},{"x":-0.22,"y":0.4,"z":4.71},{"x":-0.16,"y":0.4,"z":4.73},{"x":-0.09,"y":0.4,"z":4.75},{"x":-0.03,"y":0.4,"z":4.77},{"x":0.03,"y":0.4,"z":4.78},{"x":0.09,"y":0.4,"z":4.79},{"x":0.16,"y":0.4,"z":4.79},{"x":0.22,"y":0.4,"z":4.80},{"x":0.28,"y":0.4,"z":4.80},{"x":0.34,"y":0.4,"z":4.79},{"x":0.41,"y":0.4,"z":4.79},{"x":0.47,"y":0.4,"z":4.78},{"x":0.53,"y":0.4,"z":4.77},{"x":0.59,"y":0.4,"z":4.75},{"x":0.66,"y":0.4,"z":4.73},{"x":0.72,"y":0.4,"z":4.71},{"x":0.78,"y":0.4,"z":4.69},{"x":0.84,"y":0.4,"z":4.66},{"x":0.91,"y":0.4,"z":4.63},{"x":0.97,"y":0.4,"z":4.60},
{"x":-0.97,"y":0.5,"z":4.21},{"x":-0.91,"y":0.5,"z":4.27},{"x":-0.84,"y":0.5,"z":4.33},{"x":-0.78,"y":0.5,"z":4.38},{"x":-0.72,"y":0.5,"z":4.42},{"x":-0.66,"y":0.5,"z":4.46},{"x":-0.59,"y":0.5,"z":4.51},{"x":-0.53,"y":0.5,"z":4.55},{"x":-0.47,"y":0.5,"z":4.58},{"x":-0.41,"y":0.5,"z":4.61},{"x":-0.34,"y":0.5,"z":4.65},{"x":-0.28,"y":0.5,"z":4.67},{"x":-0.22,"y":0.5,"z":4.70},{"x":-0.16,"y":0.5,"z":4.72},{"x":-0.09,"y":0.5,"z":4.74},{"x":-0.03,"y":0.5,"z":4.75},{"x":0.03,"y":0.5,"z":4.76},{"x":0.09,"y":0.5,"z":4.77},{"x":0.16,"y":0.5,"z":4.78},{"x":0.22,"y":0.5,"z":4.78},{"x":0.28,"y":0.5,"z":4.78},{"x":0.34,"y":0.5,"z":4.78},{"x":0.41,"y":0.5,"z":4.77},{"x":0.47,"y":0.5,"z":4.76},{"x":0.53,"y":0.5,"z":4.75},{"x":0.59,"y":0.5,"z":4.74},{"x":0.66,"y":0.5,"z":4.72},{"x":0.72,"y":0.5,"z":4.70},{"x":0.78,"y":0.5,"z":4.68},{"x":0.84,"y":0.5,"z":4.65},{"x":0.91,"y":0.5,"z":4.62},{"x":0.97,"y":0.5,"z":4.59},
{"x":-0.97,"y":0.6,"z":4.18},{"x":-0.91,"y":0.6,"z":4.24},{"x":-0.84,"y":0.6,"z":4.30},{"x":-0.78,"y":0.6,"z":4.34},{"x":-0.72,"y":0.6,"z":4.39},{"x":-0.66,"y":0.6,"z":4.43},{"x":-0.59,"y":0.6,"z":4.48},{"x":-0.53,"y":0.6,"z":4.52},{"x":-0.47,"y":0.6,"z":4.55},{"x":-0.41,"y":0.6,"z":4.58},{"x":-0.34,"y":0.6,"z":4.62},{"x":-0.28,"y":0.6,"z":4.64},{"x":-0.22,"y":0.6,"z":4.67},{"x":-0.16,"y":0.6,"z":4.69},{"x":-0.09,"y":0.6,"z":4.71},{"x":-0.03,"y":0.6,"z":4.72},{"x":0.03,"y":0.6,"z":4.74},{"x":0.09,"y":0.6,"z":4.75},{"x":0.16,"y":0.6,"z":4.75},{"x":0.22,"y":0.6,"z":4.76},{"x":0.28,"y":0.6,"z":4.76},{"x":0.34,"y":0.6,"z":4.76},{"x":0.41,"y":0.6,"z":4.75},{"x":0.47,"y":0.6,"z":4.74},{"x":0.53,"y":0.6,"z":4.73},{"x":0.59,"y":0.6,"z":4.72},{"x":0.66,"y":0.6,"z":4.70},{"x":0.72,"y":0.6,"z":4.68},{"x":0.78,"y":0.6,"z":4.66},{"x":0.84,"y":0.6,"z":4.63},{"x":0.91,"y":0.6,"z":4.60},{"x":0.97,"y":0.6,"z":4.57},
{"x":-0.97,"y":0.7,"z":4.14},{"x":-0.91,"y":0.7,"z":4.20},{"x":-0.84,"y":0.7,"z":4.26},{"x":-0.78,"y":0.7,"z":4.30},{"x":-0.72,"y":0.7,"z":4.35},{"x":-0.66,"y":0.7,"z":4.40},{"x":-0.59,"y":0.7,"z":4.44},{"x":-0.53,"y":0.7,"z":4.48},{"x":-0.47,"y":0.7,"z":4.52},{"x":-0.41,"y":0.7,"z":4.55},{"x":-0.34,"y":0.7,"z":4.58},{"x":-0.28,"y":0.7,"z":4.61},{"x":-0.22,"y":0.7,"z":4.63},{"x":-0.16,"y":0.7,"z":4.65},{"x":-0.09,"y":0.7,"z":4.68},{"x":-0.03,"y":0.7,"z":4.69},{"x":0.03,"y":0.7,"z":4.70},{"x":0.09,"y":0.7,"z":4.71},{"x":0.16,"y":0.7,"z":4.72},{"x":0.22,"y":0.7,"z":4.73},{"x":0.28,"y":0.7,"z":4.73},{"x":0.34,"y":0.7,"z":4.73},{"x":0.41,"y":0.7,"z":4.72},{"x":0.47,"y":0.7,"z":4.71},{"x":0.53,"y":0.7,"z":4.70},{"x":0.59,"y":0.7,"z":4.69},{"x":0.66,"y":0.7,"z":4.67},{"x":0.72,"y":0.7,"z":4.65},{"x":0.78,"y":0.7,"z":4.63},{"x":0.84,"y":0.7,"z":4.61},{"x":0.91,"y":0.7,"z":4.58},{"x":0.97,"y":0.7,"z":4.55},
{"x":-0.97,"y":0.8,"z":4.09},{"x":-0.91,"y":0.8,"z":4.15},{"x":-0.84,"y":0.8,"z":4.21},{"x":-0.78,"y":0.8,"z":4.26},{"x":-0.72,"y":0.8,"z":4.30},{"x":-0.66,"y":0.8,"z":4.35},{"x":-0.59,"y":0.8,"z":4.40},{"x":-0.53,"y":0.8,"z":4.44},{"x":-0.47,"y":0.8,"z":4.47},{"x":-0.41,"y":0.8,"z":4.50},{"x":-0.34,"y":0.8,"z":4.54},{"x":-0.28,"y":0.8,"z":4.57},{"x":-0.22,"y":0.8,"z":4.59},{"x":-0.16,"y":0.8,"z":4.61},{"x":-0.09,"y":0.8,"z":4.63},{"x":-0.03,"y":0.8,"z":4.65},{"x":0.03,"y":0.8,"z":4.66},{"x":0.09,"y":0.8,"z":4.67},{"x":0.16,"y":0.8,"z":4.68},{"x":0.22,"y":0.8,"z":4.69},{"x":0.28,"y":0.8,"z":4.69},{"x":0.34,"y":0.8,"z":4.69},{"x":0.41,"y":0.8,"z":4.68},{"x":0.47,"y":0.8,"z":4.68},{"x":0.53,"y":0.8,"z":4.67},{"x":0.59,"y":0.8,"z":4.66},{"x":0.66,"y":0.8,"z":4.64},{"x":0.72,"y":0.8,"z":4.62},{"x":0.78,"y":0.8,"z":4.60},{"x":0.84,"y":0.8,"z":4.58},{"x":0.91,"y":0.8,"z":4.55},{"x":0.97,"y":0.8,"z":4.52},
{"x":-0.97,"y":0.9,"z":4.03},{"x":-0.91,"y":0.9,"z":4.09},{"x":-0.84,"y":0.9,"z":4.15},{"x":-0.78,"y":0.9,"z":4.20},{"x":-0.72,"y":0.9,"z":4.25},{"x":-0.66,"y":0.9,"z":4.30},{"x":-0.59,"y":0.9,"z":4.34},{"x":-0.53,"y":0.9,"z":4.38},{"x":-0.47,"y":0.9,"z":4.42},{"x":-0.41,"y":0.9,"z":4.45},{"x":-0.34,"y":0.9,"z":4.49},{"x":-0.28,"y":0.9,"z":4.52},{"x":-0.22,"y":0.9,"z":4.54},{"x":-0.16,"y":0.9,"z":4.56},{"x":-0.09,"y":0.9,"z":4.59},{"x":-0.03,"y":0.9,"z":4.60},{"x":0.03,"y":0.9,"z":4.62},{"x":0.09,"y":0.9,"z":4.63},{"x":0.16,"y":0.9,"z":4.64},{"x":0.22,"y":0.9,"z":4.64},{"x":0.28,"y":0.9,"z":4.64},{"x":0.34,"y":0.9,"z":4.64},{"x":0.41,"y":0.9,"z":4.64},{"x":0.47,"y":0.9,"z":4.63},{"x":0.53,"y":0.9,"z":4.62},{"x":0.59,"y":0.9,"z":4.61},{"x":0.66,"y":0.9,"z":4.60},{"x":0.72,"y":0.9,"z":4.58},{"x":0.78,"y":0.9,"z":4.56},{"x":0.84,"y":0.9,"z":4.54},{"x":0.91,"y":0.9,"z":4.50},{"x":0.97,"y":0.9,"z":4.48},
{"x":-0.97,"y":1,"z":3.97},{"x":-0.91,"y":1,"z":4.03},{"x":-0.84,"y":1,"z":4.09},{"x":-0.78,"y":1,"z":4.14},{"x":-0.72,"y":1,"z":4.19},{"x":-0.66,"y":1,"z":4.23},{"x":-0.59,"y":1,"z":4.28},{"x":-0.53,"y":1,"z":4.32},{"x":-0.47,"y":1,"z":4.36},{"x":-0.41,"y":1,"z":4.39},{"x":-0.34,"y":1,"z":4.43},{"x":-0.28,"y":1,"z":4.46},{"x":-0.22,"y":1,"z":4.48},{"x":-0.16,"y":1,"z":4.51},{"x":-0.09,"y":1,"z":4.53},{"x":-0.03,"y":1,"z":4.55},{"x":0.03,"y":1,"z":4.56},{"x":0.09,"y":1,"z":4.57},{"x":0.16,"y":1,"z":4.58},{"x":0.22,"y":1,"z":4.59},{"x":0.28,"y":1,"z":4.59},{"x":0.34,"y":1,"z":4.59},{"x":0.41,"y":1,"z":4.59},{"x":0.47,"y":1,"z":4.58},{"x":0.53,"y":1,"z":4.57},{"x":0.59,"y":1,"z":4.56},{"x":0.66,"y":1,"z":4.55},{"x":0.72,"y":1,"z":4.53},{"x":0.78,"y":1,"z":4.51},{"x":0.84,"y":1,"z":4.49},{"x":0.91,"y":1,"z":4.46},{"x":0.97,"y":1,"z":4.43}
],
"lines":[
{"c":"4.4","x":-0.398,"y":1},{"c":"4.4","x":-0.469,"y":0.936},{"c":"4.4","x":-0.631,"y":0.736},{"c":"4.4","x":-0.749,"y":0.502},{"c":"4.4","x":-0.812,"y":0.24},{"c":"4.4","x":-0.807,"y":-0.037},{"c":"4.4","x":-0.721,"y":-0.295},{"c":"4.4","x":-0.554,"y":-0.515},{"c":"4.4","x":-0.321,"y":-0.69},{"c":"4.4","x":-0.05,"y":-0.775},{"c":"4.4","x":0.227,"y":-0.782},{"c":"4.4","x":0.489,"y":-0.72},{"c":"4.4","x":0.723,"y":-0.605},{"c":"4.4","x":0.923,"y":-0.45},{"c":"4.4","x":1,"y":-0.375},
{"c":"4.2a","x":-0.711,"y":1},{"c":"4.2a","x":-0.79,"y":0.9},{"c":"4.2a","x":-0.87,"y":0.79},{"c":"4.2a","x":-0.93,"y":0.67},{"c":"4.2a","x":-0.975,"y":0.56},{"c":"4.2a","x":-1,"y":0.48},
{"c":"4.2b","x":-1,"y":-0.258},{"c":"4.2b","x":-0.946,"y":-0.4},{"c":"4.2b","x":-0.865,"y":-0.5},{"c":"4.2b","x":-0.77,"y":-0.61},{"c":"4.2b","x":-0.669,"y":-0.713},{"c":"4.2b","x":-0.53,"y":-0.81},{"c":"4.2b","x":-0.38,"y":-0.9},{"c":"4.2b","x":-0.25,"y":-0.96},{"c":"4.2b","x":-0.14,"y":-1},
{"c":"4.2c","x":0.263,"y":-1},{"c":"4.2c","x":0.4,"y":-0.96},{"c":"4.2c","x":0.52,"y":-0.91},{"c":"4.2c","x":0.659,"y":-0.84},{"c":"4.2c","x":0.817,"y":-0.765},{"c":"4.2c","x":1,"y":-0.67},
{"c":"4a","x":-1,"y":-0.715},{"c":"4a","x":-0.93,"y":-0.765},{"c":"4a","x":-0.85,"y":-0.826},{"c":"4a","x":-0.778,"y":-0.895},{"c":"4a","x":-0.678,"y":-1},
{"c":"4b","x":0.834,"y":-1},{"c":"4b","x":0.88,"y":-0.965},{"c":"4b","x":0.93,"y":-0.925},{"c":"4b","x":1,"y":-0.887},
{"c":"4c","x":-1,"y":0.927},{"c":"4c","x":-0.946,"y":1}
],
"rings":[
{"c":"4.6","x":0.963,"y":0.243},{"c":"4.6","x":0.959,"y":0.437},{"c":"4.6","x":0.899,"y":0.627},{"c":"4.6","x":0.78,"y":0.791},{"c":"4.6","x":0.614,"y":0.908},{"c":"4.6","x":0.422,"y":0.968},{"c":"4.6","x":0.225,"y":0.972},{"c":"4.6","x":0.039,"y":0.927},{"c":"4.6","x":-0.127,"y":0.845},{"c":"4.6","x":-0.269,"y":0.731},{"c":"4.6","x":-0.385,"y":0.59},{"c":"4.6","x":-0.468,"y":0.426},{"c":"4.6","x":-0.513,"y":0.243},{"c":"4.6","x":-0.509,"y":0.049},{"c":"4.6","x":-0.449,"y":-0.141},{"c":"4.6","x":-0.33,"y":-0.305},{"c":"4.6","x":-0.164,"y":-0.422},{"c":"4.6","x":0.028,"y":-0.482},{"c":"4.6","x":0.225,"y":-0.486},{"c":"4.6","x":0.411,"y":-0.441},{"c":"4.6","x":0.577,"y":-0.359},{"c":"4.6","x":0.719,"y":-0.245},{"c":"4.6","x":0.835,"y":-0.104},{"c":"4.6","x":0.918,"y":0.06},
{"c":"4.8","x":0.342,"y":0.24},{"c":"4.8","x":0.327,"y":0.3},{"c":"4.8","x":0.286,"y":0.344},{"c":"4.8","x":0.229,"y":0.36},{"c":"4.8","x":0.172,"y":0.344},{"c":"4.8","x":0.131,"y":0.3},{"c":"4.8","x":0.116,"y":0.24},{"c":"4.8","x":0.131,"y":0.18},{"c":"4.8","x":0.172,"y":0.136},{"c":"4.8","x":0.229,"y":0.12},{"c":"4.8","x":0.286,"y":0.136},{"c":"4.8","x":0.327,"y":0.18}
],
"labels":[
{"x":-0.871,"y":0.803,"t":"4.2"},{"x":0.147,"y":0.185,"t":"4.8"},{"x":0.073,"y":-0.449,"t":"4.6"},{"x":-0.549,"y":-0.492,"t":"4.4"},{"x":-0.665,"y":-0.713,"t":"4.2"},{"x":-0.85,"y":-0.826,"t":"4"},{"x":0.659,"y":-0.84,"t":"4.2"},{"x":0.918,"y":-0.911,"t":"4"}
],
"corners":[
{"x":-1,"y":1},{"x":1,"y":1},{"x":-1,"y":-1},{"x":1,"y":-1}
],
"center":[
{"x":0,"y":0,"n":"5"}
]
},
"layer":[
{"data":{"name":"grid"},
"mark":{"type":"rect","binSpacing":0,"strokeWidth":0.6,"clip":true},
"encoding":{
"x":{"field":"x","type":"quantitative","bin":{"extent":[-1,1],"step":0.0625,"nice":false},"scale":{"domain":[-1,1],"nice":false,"zero":false},"title":"A: Liquid-solid","axis":{"values":[-1,-0.5,0,0.5,1],"labelExpr":"replace(format(datum.value,'.2f'),'−','-')"}},
"y":{"field":"y","type":"quantitative","bin":{"extent":[-1.025,1.025],"step":0.05,"nice":false},"scale":{"domain":[-1,1],"nice":false,"zero":false},"title":null,"axis":{"values":[-1,-0.5,0,0.5,1],"labelExpr":"replace(format(datum.value,'.2f'),'−','-')"}},
"fill":{"field":"z","type":"quantitative","legend":null,"scale":{"type":"linear","domain":[3.8,4.03,4.27,4.53,4.8],"range":["#0000ff","#00ffff","#00ff00","#ffff00","#ff0000"],"interpolate":"rgb","clamp":true}},
"stroke":{"field":"z","type":"quantitative","legend":null,"scale":{"type":"linear","domain":[3.8,4.03,4.27,4.53,4.8],"range":["#0000ff","#00ffff","#00ff00","#ffff00","#ff0000"],"interpolate":"rgb","clamp":true}}
}},
{"data":{"name":"lines"},
"mark":{"type":"line","interpolate":"cardinal","stroke":"#1e1e1e","strokeWidth":0.9,"clip":true},
"encoding":{
"x":{"field":"x","type":"quantitative","title":"A: Liquid-solid"},
"y":{"field":"y","type":"quantitative","title":null},
"detail":{"field":"c","type":"nominal"},
"order":{"value":null}
}},
{"data":{"name":"rings"},
"mark":{"type":"line","interpolate":"cardinal-closed","stroke":"#1e1e1e","strokeWidth":0.9,"clip":true},
"encoding":{
"x":{"field":"x","type":"quantitative","title":"A: Liquid-solid"},
"y":{"field":"y","type":"quantitative","title":null},
"detail":{"field":"c","type":"nominal"},
"order":{"value":null}
}},
{"data":{"name":"labels"},
"mark":{"type":"point","filled":true,"fill":"white","stroke":"#444444","strokeWidth":0.8,"opacity":1},
"encoding":{
"x":{"field":"x","type":"quantitative","title":"A: Liquid-solid"},
"y":{"field":"y","type":"quantitative","title":null},
"shape":{"condition":{"test":"datum.t=='4'","value":"square"},"value":"M-1,-0.6H1V0.6H-1Z"},
"size":{"condition":{"test":"datum.t=='4'","value":90},"value":256}
}},
{"data":{"name":"labels"},
"mark":{"type":"text","font":"Liberation Sans","fontSize":8.5,"color":"#3a3a4a","align":"center","baseline":"middle","dy":0.5},
"encoding":{
"x":{"field":"x","type":"quantitative","title":"A: Liquid-solid"},
"y":{"field":"y","type":"quantitative","title":null},
"text":{"field":"t","type":"nominal"}
}},
{"data":{"name":"corners"},
"mark":{"type":"point","filled":true,"shape":"circle","size":55,"color":"#e81010","opacity":1},
"encoding":{
"x":{"field":"x","type":"quantitative","title":"A: Liquid-solid"},
"y":{"field":"y","type":"quantitative","title":null}
}},
{"data":{"name":"center"},
"mark":{"type":"point","filled":true,"shape":"circle","size":28,"fill":"#d82020","stroke":"#7a0000","strokeWidth":1,"opacity":1},
"encoding":{
"x":{"field":"x","type":"quantitative","title":"A: Liquid-solid"},
"y":{"field":"y","type":"quantitative","title":null}
}},
{"data":{"name":"center"},
"mark":{"type":"text","font":"Liberation Sans","fontSize":9.5,"color":"#8b1010","align":"center","baseline":"middle","dx":-9,"dy":-1},
"encoding":{
"x":{"field":"x","type":"quantitative","title":"A: Liquid-solid"},
"y":{"field":"y","type":"quantitative","title":null},
"text":{"field":"n","type":"nominal"}
}}
]
}
